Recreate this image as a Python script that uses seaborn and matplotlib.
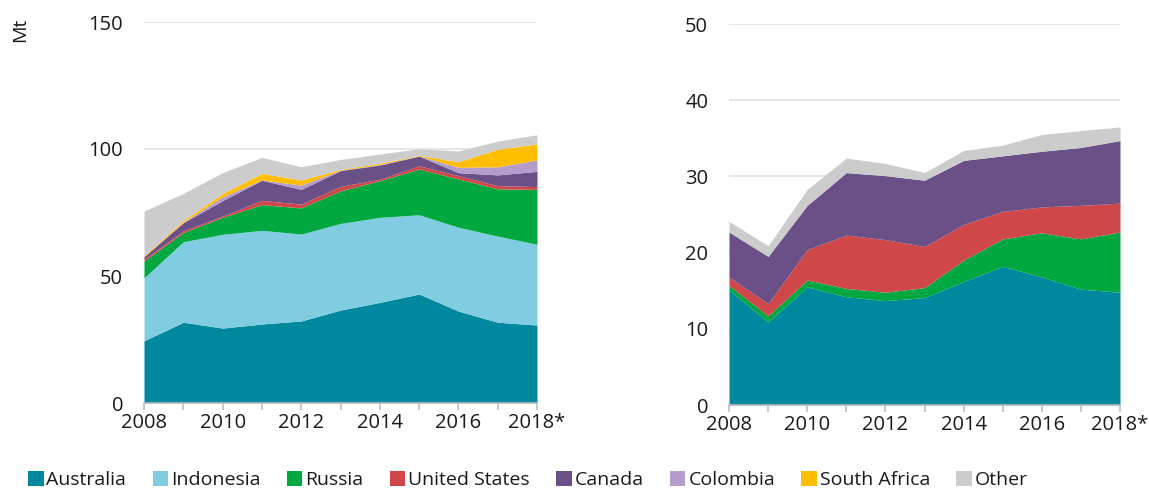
import matplotlib
matplotlib.use("Agg")
import matplotlib.pyplot as plt
import seaborn as sns
import numpy as np
from matplotlib.patches import Patch

# years shown on both panels
years = list(range(2008, 2019))
year_labels = ["2008", "", "2010", "", "2012", "", "2014", "", "2016", "", "2018*"]

# left panel (Mt)
left_australia = [24.5, 31.8, 29.5, 31.1, 32.3, 36.6, 39.6, 42.9, 36.2, 31.8, 30.7]
left_indonesia = [24.8, 31.7, 36.9, 36.9, 34.2, 34.1, 33.5, 31.2, 33.0, 33.9, 31.8]
left_russia = [6.6, 3.6, 6.7, 10.1, 10.3, 12.8, 14.4, 18.0, 19.0, 18.6, 21.6]
left_us = [0.7, 0.7, 0.5, 1.7, 1.5, 1.8, 0.6, 1.3, 1.3, 1.3, 1.1]
left_canada = [1.0, 3.2, 6.1, 7.9, 5.8, 6.2, 5.6, 3.8, 1.2, 4.2, 6.0]
left_colombia = [0.0, 0.2, 1.5, 0.1, 1.7, 0.2, 0.2, 0.1, 2.1, 3.2, 4.5]
left_south_africa = [0.4, 0.6, 1.3, 2.6, 2.0, 0.3, 0.5, 0.2, 2.2, 6.9, 6.3]
left_other = [17.6, 10.7, 8.2, 6.3, 5.2, 3.9, 3.6, 2.6, 4.2, 3.2, 3.6]

# right panel (Mt)
right_australia = [15.1, 10.9, 15.5, 14.2, 13.7, 14.1, 16.2, 18.2, 16.8, 15.2, 14.8]
right_russia = [0.6, 0.8, 0.9, 1.1, 1.1, 1.3, 2.8, 3.6, 5.8, 6.6, 7.9]
right_us = [1.1, 1.6, 4.0, 7.0, 6.9, 5.4, 4.7, 3.6, 3.4, 4.4, 3.8]
right_canada = [5.9, 6.2, 5.8, 8.2, 8.4, 8.7, 8.4, 7.3, 7.3, 7.6, 8.2]
right_other = [1.4, 1.4, 2.1, 1.9, 1.6, 1.0, 1.3, 1.4, 2.2, 2.2, 1.8]

names = ["Australia", "Indonesia", "Russia", "United States", "Canada",
         "Colombia", "South Africa", "Other"]
colors = {
    "Australia": "#00889E",
    "Indonesia": "#80CDE1",
    "Russia": "#00A83F",
    "United States": "#D0474A",
    "Canada": "#6A5087",
    "Colombia": "#B49DCB",
    "South Africa": "#FFBE00",
    "Other": "#CCCCCC",
}

sns.set_theme(style="white")
plt.rcParams["font.family"] = ["Open Sans", "DejaVu Sans"]
text_col = "#1A1A1A"

fig = plt.figure(figsize=(11.49, 4.9), dpi=100)
W, H = 1149, 490
ax1 = fig.add_axes([144 / W, 1 - 403 / H, (537 - 144) / W, (403 - 22) / H])
ax2 = fig.add_axes([729 / W, 1 - 405 / H, (1120 - 729) / W, (405 - 24) / H])

left_series = [left_australia, left_indonesia, left_russia, left_us,
               left_canada, left_colombia, left_south_africa, left_other]
right_series = [right_australia, right_russia, right_us, right_canada, right_other]
right_names = ["Australia", "Russia", "United States", "Canada", "Other"]

ax1.stackplot(years, *left_series, colors=[colors[n] for n in names], linewidth=0)
ax2.stackplot(years, *right_series, colors=[colors[n] for n in right_names], linewidth=0)

for ax, top, step in [(ax1, 150, 50), (ax2, 50, 10)]:
    ax.set_xlim(2008, 2018)
    ax.set_ylim(0, top)
    ax.set_yticks(np.arange(0, top + 1, step))
    ax.set_xticks(years)
    ax.set_xticklabels(year_labels)
    ax.yaxis.grid(True, color="#E3E3E3", linewidth=1.2)
    ax.set_axisbelow(True)
    sns.despine(ax=ax, left=True)
    ax.spines["bottom"].set_color("#BFBFBF")
    ax.spines["bottom"].set_linewidth(1.2)
    ax.spines["bottom"].set_zorder(5)
    ax.tick_params(axis="x", bottom=True, length=5, width=1.2, color="#BFBFBF",
                   labelsize=14.5, labelcolor=text_col, pad=2)
    ax.tick_params(axis="y", left=False, length=0, labelsize=14.5,
                   labelcolor=text_col, pad=15)

fig.text(20 / W, 1 - 30 / H, "Mt", rotation=90, ha="center", va="center",
         fontsize=14, color=text_col)

handles = [Patch(facecolor=colors[n], edgecolor="none") for n in names]
fig.legend(handles, names, loc="center left", bbox_to_anchor=(28 / W, 1 - 480 / H),
           ncol=len(names), frameon=False, fontsize=14, handlelength=0.8,
           handleheight=0.8, handletextpad=0.15, columnspacing=1.35,
           labelcolor=text_col, borderaxespad=0, borderpad=0)

fig.savefig("out.png", dpi=100)
